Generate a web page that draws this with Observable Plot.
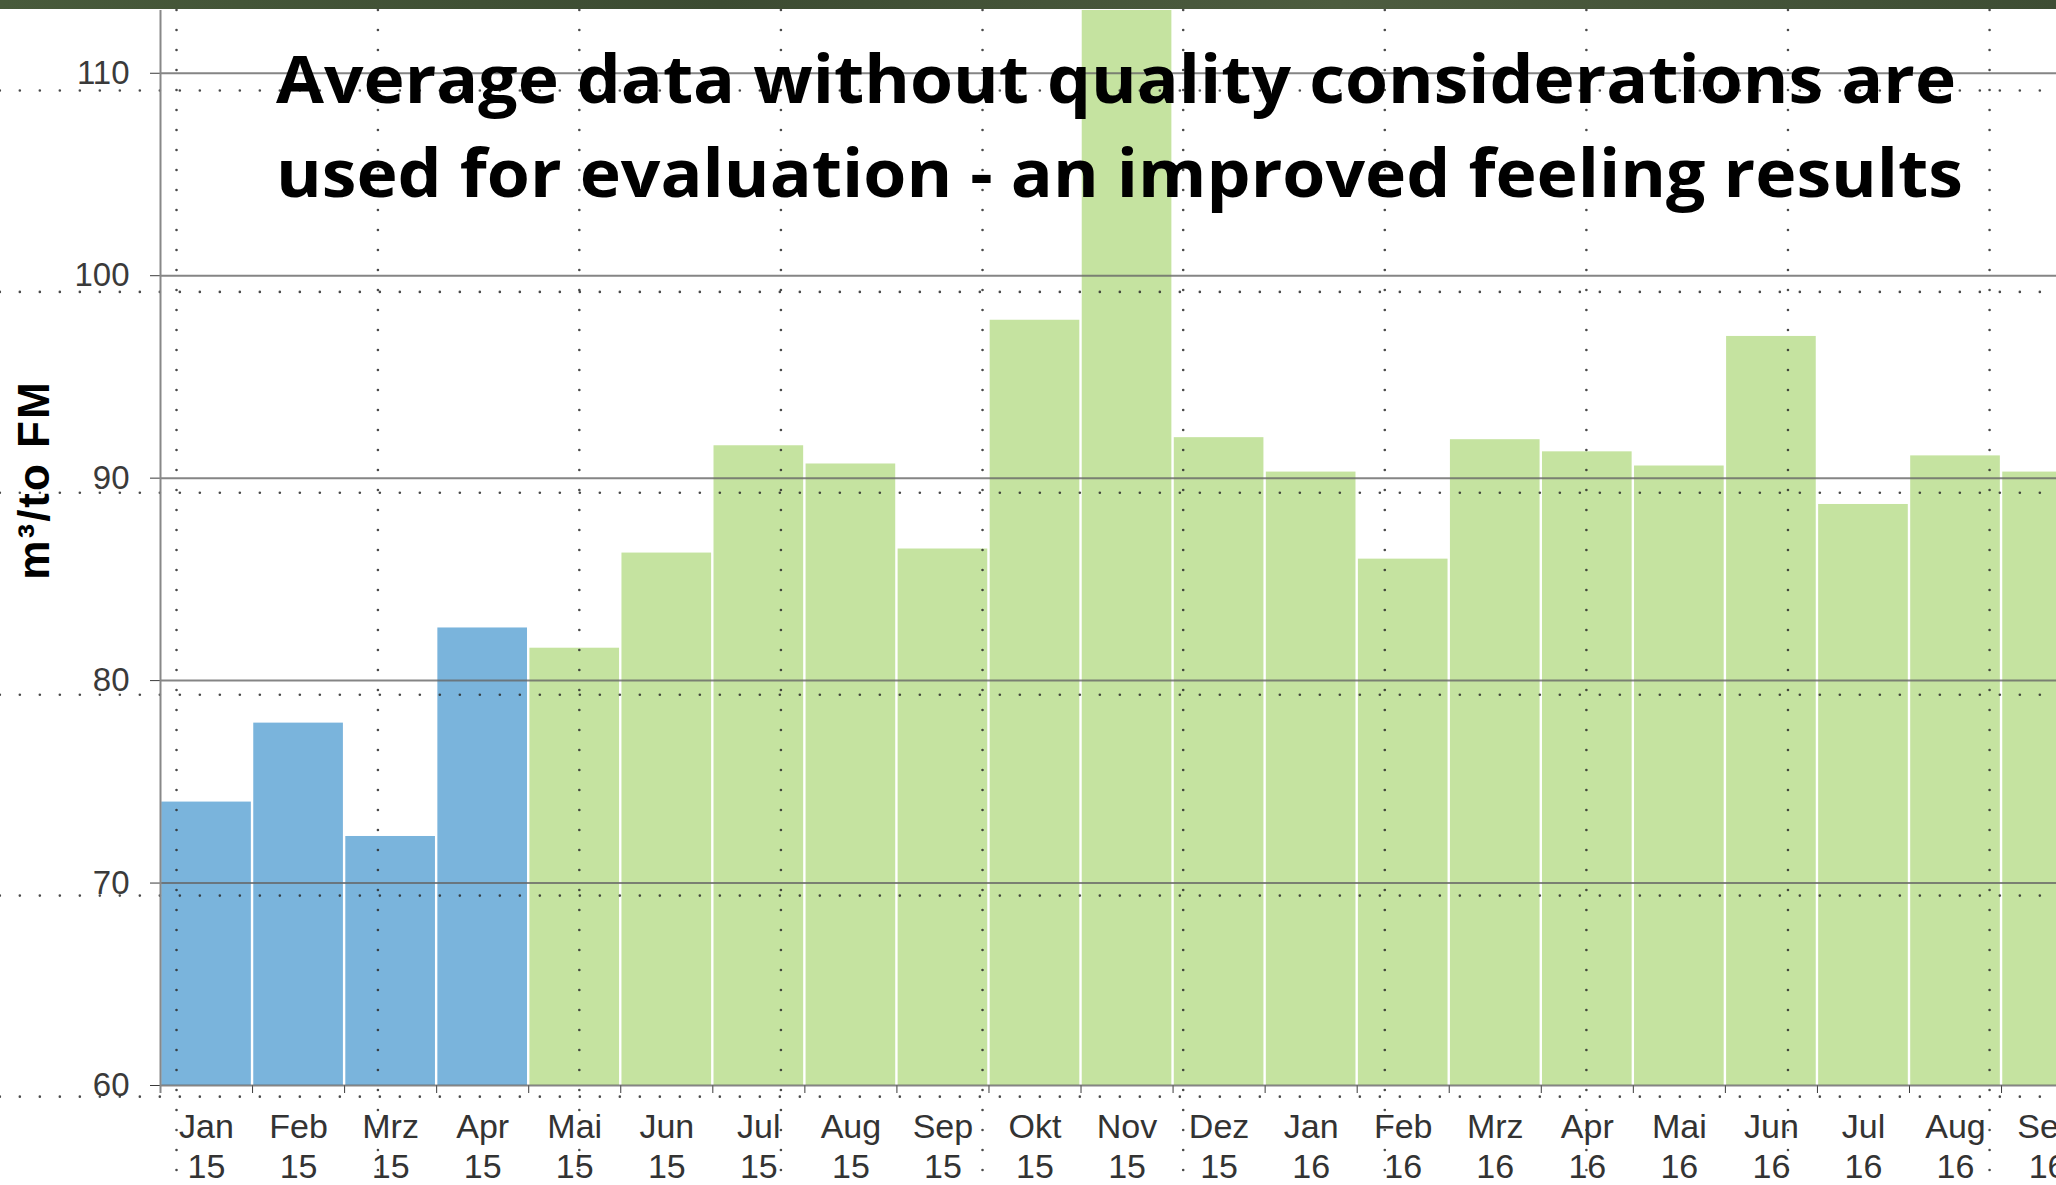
<!DOCTYPE html>
<html><head><meta charset="utf-8">
<script src="https://cdn.jsdelivr.net/npm/d3@7"></script>
<script src="https://cdn.jsdelivr.net/npm/@observablehq/plot@0.6"></script>
<style>
html,body{margin:0;padding:0;background:#fff;overflow:hidden;}
#wrap{position:relative;width:2056px;height:1185px;overflow:hidden;}
#chart svg{display:block;overflow:hidden;}
#band{position:absolute;left:0;top:0;width:2056px;height:9px;background:linear-gradient(90deg,#485a3b,#3c4b32 35%,#4d5c3f 65%,#3e4d34);}
#title{position:absolute;left:276px;top:30px;font-family:"Open Sans",sans-serif;font-weight:700;font-size:67px;line-height:94px;color:#000;white-space:nowrap;}
#title .l{transform-origin:0 50%;}
</style></head><body>
<div id="wrap"><div id="chart"></div><div id="band"></div>
<div id="title"><div class="l">Average data without quality considerations are</div><div class="l">used for evaluation - an improved feeling results</div></div></div>
<script>
// ---- data ----
const months = ["Jan","Feb","Mrz","Apr","Mai","Jun","Jul","Aug","Sep","Okt","Nov","Dez","Jan","Feb","Mrz","Apr","Mai","Jun","Jul","Aug","Sep"];
const years  = ["15","15","15","15","15","15","15","15","15","15","15","15","16","16","16","16","16","16","16","16","16"];
const values = [74.0, 77.9, 72.3, 82.6, 81.6, 86.3, 91.6, 90.7, 86.5, 97.8, 116, 92.0, 90.3, 86.0, 91.9, 91.3, 90.6, 97.0, 88.7, 91.1, 90.3];
const phases = ["before","before","before","before","after","after","after","after","after","after","after","after","after","after","after","after","after","after","after","after","after"];
const yTicks = [60, 70, 80, 90, 100, 110];
const yTitle = "m³/to FM";
// faint dotted overlay grid (in data units)
const ghostGridY = [109.15, 99.2, 89.28, 79.3, 69.38, 59.45];
const ghostGridX = [0.174, 2.362, 4.55, 6.74, 8.93, 11.11, 13.30, 15.49, 17.68, 19.87];

const yMin = 60, yMax = 113.1;
const xMax = 20.597, xLeft = -1.74, yBottom = 55.0;

const data = values.map((v, i) => ({i, x1: i, x2: i + 1, value: v, phase: phases[i], label: months[i] + "\n" + years[i]}));
const boundaries = d3.range(0, values.length);

const chart = Plot.plot({
  width: 2056,
  height: 1185,
  marginLeft: 160,
  marginRight: 0,
  marginTop: 10,
  marginBottom: 100,
  style: {fontFamily: "'Liberation Sans', Arial, sans-serif", fontSize: "33px", color: "#3a3a3a", background: "#fff"},
  x: {domain: [0, xMax], ticks: boundaries, tickSize: 8, tickFormat: () => "", label: null},
  y: {domain: [yMin, yMax], ticks: yTicks, tickSize: 10, tickPadding: 21, label: null},
  color: {domain: ["before", "after"], range: ["#7ab4dc", "#c5e3a0"]},
  marks: [
    Plot.rect(data, {x1: "x1", x2: "x2", y1: yMin, y2: "value", fill: "phase", insetLeft: 1.2, insetRight: 1.2, clip: true}),
    Plot.ruleY(ghostGridY, {x1: xLeft, x2: xMax, stroke: "#2a2a2a", strokeWidth: 2.6, strokeDasharray: "0,20", strokeLinecap: "round", strokeOpacity: 0.85}),
    Plot.ruleX(ghostGridX, {y1: yMax, y2: yBottom, stroke: "#2a2a2a", strokeWidth: 2.6, strokeDasharray: "0,20", strokeLinecap: "round", strokeOpacity: 0.85}),
    Plot.ruleY(yTicks, {stroke: "#666", strokeOpacity: 0.8, strokeWidth: 2}),
    Plot.ruleX([0], {y1: yMin - 0.4, y2: yMax, stroke: "#888", strokeWidth: 2}),
    Plot.text(data, {x: d => d.i + 0.5, y: yMin, text: "label", lineAnchor: "top", dy: 24, fontSize: 34, lineHeight: 1.17, fill: "#333"}),
    Plot.text([yTitle], {frameAnchor: "left", textAnchor: "middle", rotate: -90, dx: -126, dy: -68, fontSize: 44, fontWeight: "bold", fill: "#000"})
  ]
});
document.getElementById("chart").appendChild(chart);
chart.querySelectorAll("text").forEach(t => { if (t.textContent === yTitle) t.style.letterSpacing = "2px"; });

function fitTitle() {
  const targets = [1680, 1687];
  document.querySelectorAll("#title .l").forEach((el, k) => {
    el.style.transform = "none";
    el.style.display = "inline-block";
    const w = el.getBoundingClientRect().width;
    el.style.display = "block";
    if (w > 0) el.style.transform = `scaleX(${targets[k] / w})`;
  });
}
fitTitle();
if (document.fonts && document.fonts.ready) document.fonts.ready.then(fitTitle);
</script>
</body></html>
